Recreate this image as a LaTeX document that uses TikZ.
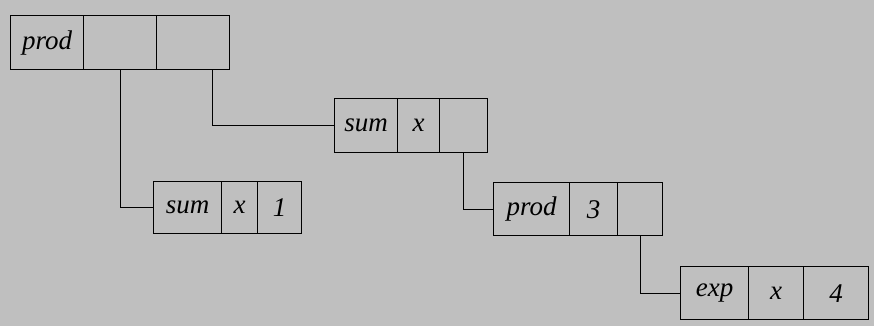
\documentclass[tikz,border=0pt]{standalone}
\usepackage{fontspec}
\setmainfont{Liberation Serif}
\usetikzlibrary{calc}
\definecolor{paper}{gray}{0.75}
\begin{document}
\begin{tikzpicture}[x=1pt,y=-1pt,
  cell/.style={draw=black, line width=1.4pt, minimum height=54pt, inner sep=0pt,
    anchor=north west, font=\fontsize{27}{30}\selectfont\itshape},
  link/.style={draw=black, line width=1pt}]
% halftone-grey page
\fill[paper] (0,0) rectangle (874,326);
\useasboundingbox (0,0) rectangle (874,326);

% (prod _ _)
\node[cell, minimum width=73pt] (p1a) at (10,15) {prod};
\node[cell, minimum width=73pt] (p1b) at (83,15) {};
\node[cell, minimum width=73pt] (p1c) at (156,15) {};

% (sum x _)
\node[cell, minimum width=63pt] (s2a) at (334,98) {sum};
\node[cell, minimum width=42pt] (s2b) at (397,98) {x};
\node[cell, minimum width=48pt] (s2c) at (439,98) {};

% (sum x 1)
\node[cell, minimum width=68pt, minimum height=52pt] (s1a) at (153,181) {sum};
\node[cell, minimum width=36pt, minimum height=52pt] (s1b) at (221,181) {x};
\node[cell, minimum width=44pt, minimum height=52pt] (s1c) at (257,181) {1};

% (prod 3 _)
\node[cell, minimum width=76pt, minimum height=53pt] (p2a) at (493,182) {prod};
\node[cell, minimum width=48pt, minimum height=53pt] (p2b) at (569,182) {3};
\node[cell, minimum width=45pt, minimum height=53pt] (p2c) at (617,182) {};

% (exp x 4)
\node[cell, minimum width=68pt, minimum height=53pt] (e1a) at (680,266) {exp};
\node[cell, minimum width=55pt, minimum height=53pt] (e1b) at (748,266) {x};
\node[cell, minimum width=65pt, minimum height=53pt] (e1c) at (803,266) {4};

% pointers
\draw[link] (p1b.south) |- (s1a.west);
\draw[link] ($(p1c.south west)!0.76!(p1c.south east)$) |- (s2a.west);
\draw[link] (s2c.south) |- (p2a.west);
\draw[link] (p2c.south) |- (e1a.west);
\end{tikzpicture}
\end{document}
